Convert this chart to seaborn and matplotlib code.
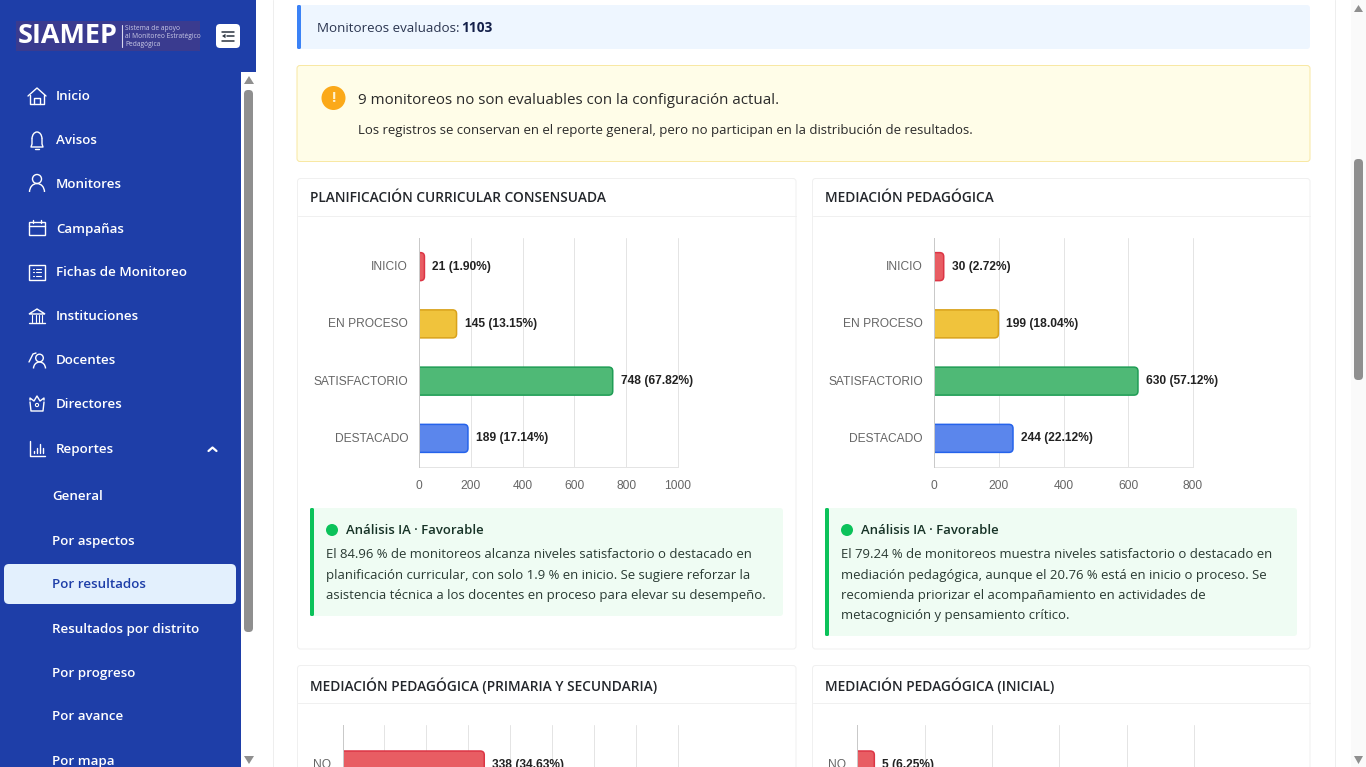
#!/usr/bin/env python
# encoding: utf-8
"""
Reporte SIAMEP: resultados por aspecto, with the page drawn around the charts
"""

import matplotlib
matplotlib.use("Agg")
import matplotlib.pyplot as plt
from matplotlib.patches import Rectangle, FancyBboxPatch, Circle, Arc, Polygon
from matplotlib.transforms import ScaledTranslation
import pandas as pd
import seaborn as sns

sns.set_theme(style="white")
UI_FONT = "Open Sans"
CHART_FONT = "Liberation Sans"
plt.rcParams["font.family"] = [UI_FONT, "DejaVu Sans"]

W, H = 1366, 767

LEVELS = ["INICIO", "EN PROCESO", "SATISFACTORIO", "DESTACADO"]
PLAN_COUNTS = [21, 145, 748, 189]
PLAN_PCT = [1.90, 13.15, 67.82, 17.14]
MEDIA_COUNTS = [30, 199, 630, 244]
MEDIA_PCT = [2.72, 18.04, 57.12, 22.12]
YESNO = ["NO"]
PRIM_COUNTS = [338]
PRIM_PCT = [34.63]
INIC_COUNTS = [5]
INIC_PCT = [6.25]

PLAN_TICKS = [0, 200, 400, 600, 800, 1000]
MEDIA_TICKS = [0, 200, 400, 600, 800]
PRIM_TICKS = [0, 100, 200, 300, 400, 500, 600, 700, 800]
INIC_TICKS = [0, 20, 40, 60, 80, 100]

MENU_MAIN = ["Inicio", "Avisos", "Monitores", "Campañas", "Fichas de Monitoreo",
             "Instituciones", "Docentes", "Directores", "Reportes"]
MENU_SUB = ["General", "Por aspectos", "Por resultados", "Resultados por distrito",
            "Por progreso", "Por avance", "Por mapa"]

PLAN_TEXT = ["El 84.96 % de monitoreos alcanza niveles satisfactorio o destacado en",
             "planificación curricular, con solo 1.9 % en inicio. Se sugiere reforzar la",
             "asistencia técnica a los docentes en proceso para elevar su desempeño."]
MEDIA_TEXT = ["El 79.24 % de monitoreos muestra niveles satisfactorio o destacado en",
              "mediación pedagógica, aunque el 20.76 % está en inicio o proceso. Se",
              "recomienda priorizar el acompañamiento en actividades de",
              "metacognición y pensamiento crítico."]

LEVEL_FILL = ["#e85d63", "#f0c33c", "#4fb976", "#5b86ec"]
LEVEL_EDGE = ["#dc3545", "#d9a21b", "#1f9d55", "#2563eb"]
BLUE = "#1e3ea8"
DARK = "#212529"


def px(v):
    return v * 0.72


def px_axes(fig, left, top, right, bottom):
    ax = fig.add_axes([left / W, 1 - bottom / H, (right - left) / W, (bottom - top) / H])
    ax.patch.set_alpha(0)
    return ax


def hbar(fig, box, labels, counts, pcts, ticks, fills, edges, n_slots=None, show_x=True):
    left, top, right, bottom = box
    ax = px_axes(fig, left, top, right, bottom)
    data = pd.DataFrame({"label": labels, "count": counts})
    slots = n_slots or len(labels)
    sns.barplot(data=data, y="label", x="count", hue="label", order=labels, hue_order=labels,
                palette=fills, legend=False, saturation=1, width=0.5, ax=ax)
    ax.set_xlim(ticks[0], ticks[-1])
    ax.set_ylim(slots - 0.5, -0.5)

    # rounded right corners, the left part hides behind the axis
    x_per_px = (ticks[-1] - ticks[0]) / (right - left)
    y_per_px = slots / (bottom - top)
    bar_h = 28 * y_per_px
    for i, patch in enumerate(list(ax.patches)):
        patch.remove()
        r = 4 * x_per_px
        ax.add_patch(FancyBboxPatch((-2 * r, i - bar_h / 2), counts[i] + 2 * r, bar_h,
                                    boxstyle=f"round,pad=0,rounding_size={r}",
                                    mutation_aspect=y_per_px / x_per_px,
                                    facecolor=fills[i], edgecolor=edges[i], linewidth=1.1, zorder=3))
        ax.annotate(f"{counts[i]} ({pcts[i]:.2f}%)", xy=(counts[i], i), xytext=(px(8), 0),
                    textcoords="offset points", va="center", ha="left", fontsize=px(12),
                    fontweight="bold", color="#222222", family=CHART_FONT, annotation_clip=False)

    ax.set_xticks(ticks)
    ax.set_xlabel("")
    ax.set_ylabel("")
    ax.grid(axis="x", color="#e4e4e4", linewidth=px(1))
    for line in ax.get_xgridlines():
        line.set_clip_on(False)
    ax.set_axisbelow(True)
    ax.tick_params(axis="x", length=0, pad=px(13), labelsize=px(12), labelcolor="#666666",
                   labelbottom=show_x)
    ax.tick_params(axis="y", length=0, pad=px(11), labelsize=px(12), labelcolor="#666666")
    for tick in ax.get_xticklabels() + ax.get_yticklabels():
        tick.set_family(CHART_FONT)
    up = ScaledTranslation(0, 1 / 100, fig.dpi_scale_trans)
    for tick in ax.get_yticklabels():
        tick.set_transform(tick.get_transform() + up)
    sns.despine(ax=ax, top=True, right=True)
    ax.spines["left"].set_color("#c9c9c9")
    ax.spines["left"].set_linewidth(px(1))
    ax.spines["left"].set_zorder(5)
    ax.spines["bottom"].set_color("#e4e4e4")
    ax.spines["bottom"].set_linewidth(px(1))
    return ax


def rbox(ax, x0, y0, x1, y1, face, edge="none", r=3, lw=px(1), z=1):
    ax.add_patch(FancyBboxPatch((x0, y0), x1 - x0, y1 - y0,
                                boxstyle=f"round,pad=0,rounding_size={r}",
                                facecolor=face, edgecolor=edge, linewidth=lw, zorder=z))


def label(ax, x, y, s, size=14, color=DARK, weight="normal", ha="left", family=None, va="center"):
    ax.text(x, y + 1, s, fontsize=px(size), color=color, fontweight=weight, ha=ha, va=va,
            family=family or UI_FONT, zorder=6)


def stroke(ax, xs, ys, color="white", lw=1.0):
    ax.plot(xs, ys, color=color, linewidth=lw, solid_capstyle="round", zorder=6)


def draw_icons(ax):
    # inicio
    stroke(ax, [28, 37, 46], [96, 88, 96])
    stroke(ax, [30, 30, 44, 44], [95, 104, 104, 95])
    stroke(ax, [34, 34, 40, 40], [104, 98, 98, 104])
    # avisos
    ax.add_patch(Arc((37, 139), 10, 14, theta1=180, theta2=360, color="white", lw=1.0, zorder=6))
    stroke(ax, [32, 32, 31, 43, 42, 42], [139, 144, 147, 147, 144, 139])
    stroke(ax, [35, 39], [149, 149])
    # monitores
    ax.add_patch(Circle((37, 179), 4.5, fill=False, ec="white", lw=1.0, zorder=6))
    ax.add_patch(Arc((37, 192), 15, 17, theta1=180, theta2=360, color="white", lw=1.0, zorder=6))
    # campañas
    ax.add_patch(Rectangle((29, 222), 16, 13, fill=False, ec="white", lw=1.0, zorder=6))
    stroke(ax, [29, 45], [226, 226])
    stroke(ax, [33, 33], [220, 223])
    stroke(ax, [41, 41], [220, 223])
    # fichas
    ax.add_patch(Rectangle((29, 264.5), 15.5, 15, fill=False, ec="white", lw=1.0, zorder=6))
    for yy in [268.5, 272, 275.5]:
        stroke(ax, [33, 34], [yy, yy], lw=0.8)
        stroke(ax, [36, 41], [yy, yy], lw=0.8)
    # instituciones
    ax.add_patch(Polygon([(29, 314), (37, 309), (45, 314)], fill=False, ec="white", lw=1.0, zorder=6))
    for xx in [32, 35.5, 38.5, 42]:
        stroke(ax, [xx, xx], [315, 322], lw=0.8)
    stroke(ax, [29, 45], [323, 323])
    # docentes
    ax.add_patch(Circle((39.5, 358), 3.8, fill=False, ec="white", lw=1.0, zorder=6))
    ax.add_patch(Arc((39.5, 368.5), 12, 13, theta1=180, theta2=360, color="white", lw=1.0, zorder=6))
    stroke(ax, [36, 33, 31, 29], [353, 354, 358, 362])
    # directores
    stroke(ax, [30, 30, 34, 37, 40, 44, 44], [400, 398, 401, 396, 401, 398, 400])
    stroke(ax, [30, 31, 43, 44], [402, 411, 411, 402])
    ax.add_patch(Circle((37, 405), 1.6, fill=False, ec="white", lw=0.8, zorder=6))
    # reportes
    stroke(ax, [30, 30, 45], [441, 456, 456])
    for xx, yt in zip([33.5, 36.5, 39.5, 42.5], [451, 448, 444, 448]):
        stroke(ax, [xx, xx], [yt, 453], lw=1.0)
    stroke(ax, [208.5, 212.5, 216.5], [451, 447.5, 451], lw=1.6)


def draw_page(ax):
    ax.set_xlim(0, W)
    ax.set_ylim(H, 0)
    ax.axis("off")

    # sidebar
    ax.add_patch(Rectangle((0, 0), 241, H, color=BLUE, lw=0))
    ax.add_patch(Rectangle((241, 0), 15, 72, color=BLUE, lw=0))
    rbox(ax, 244, 90, 253, 632, "#8f8f8f", r=4, z=2)
    ax.add_patch(Polygon([(244, 84), (254, 84), (249, 76)], color="#8f8f8f", lw=0))
    ax.add_patch(Polygon([(244, 756), (254, 756), (249, 764)], color="#8f8f8f", lw=0))

    # logo
    ax.add_patch(Rectangle((16, 21), 184, 30, color="#3a3b8f", lw=0, zorder=2))
    label(ax, 18, 35, "SIAMEP", size=27, color="white", weight="bold", family="Open Sans")
    ax.plot([121.5, 121.5], [25, 47], color="#d8d8ee", lw=0.8, zorder=6)
    for yy, s in zip([27, 35.5, 44], ["Sistema de apoyo", "al Monitoreo Estratégico", "Pedagógica"]):
        label(ax, 125, yy, s, size=6.7, color="#c9c9e6")
    rbox(ax, 216, 24, 240, 48, "white", r=4, z=2)
    for yy, x0 in zip([31.5, 36, 40.5], [222, 227, 222]):
        stroke(ax, [x0, 234], [yy, yy], color="#2b3440", lw=1.1)
    ax.add_patch(Polygon([(225.5, 33.8), (225.5, 38.2), (222, 36)], color="#2b3440", lw=0, zorder=6))

    for i, name in enumerate(MENU_MAIN):
        label(ax, 56, 96 + 44 * i, name, size=13.4, color="white", weight="semibold")
    rbox(ax, 4, 564, 236, 604, "#e3f0fd", r=5, z=2)
    for i, name in enumerate(MENU_SUB):
        color = BLUE if name == "Por resultados" else "white"
        label(ax, 52, 496 + 44 * i, name, size=13.4, color=color, weight="semibold")
    draw_icons(ax)

    # page borders and scrollbar
    ax.plot([272.5, 272.5], [0, H], color="#eeeeee", lw=px(1))
    ax.plot([1334.5, 1334.5], [0, H], color="#eeeeee", lw=px(1))
    ax.add_patch(Rectangle((1351, 0), 15, H, color="#fafafa", lw=0))
    rbox(ax, 1354, 159, 1363, 380, "#8f8f8f", r=4, z=2)
    ax.add_patch(Polygon([(1354, 12), (1363, 12), (1358.5, 5)], color="#8f8f8f", lw=0))
    ax.add_patch(Polygon([(1354, 756), (1363, 756), (1358.5, 764)], color="#8f8f8f", lw=0))

    # totals
    rbox(ax, 297, 5, 1310, 49, "#eef6ff", r=3)
    rbox(ax, 297, 5, 301, 49, "#3b82f6", r=1.5, z=2)
    label(ax, 317, 31.5, "Monitoreos evaluados:", size=13.35, color="#2b3550", va="baseline")
    label(ax, 461, 31.5, "1103", size=13.6, color="#14204a", weight="bold", va="baseline")

    # warning
    rbox(ax, 297, 65.5, 1310, 161.5, "#fffde8", edge="#f8e8a4", r=3)
    ax.add_patch(Circle((333.5, 98), 12, color="#fba919", lw=0, zorder=3))
    label(ax, 333.5, 97, "!", size=15, color="#fff3d0", weight="bold", ha="center")
    label(ax, 358, 99.5, "9 monitoreos no son evaluables con la configuración actual.", size=15.1, color="#2a2a2a")
    label(ax, 358, 129.5, "Los registros se conservan en el reporte general, pero no participan en la distribución de resultados.",
          size=13.15, color="#2a2a2a")

    # cards
    titles = ["PLANIFICACIÓN CURRICULAR CONSENSUADA", "MEDIACIÓN PEDAGÓGICA",
              "MEDIACIÓN PEDAGÓGICA (PRIMARIA Y SECUNDARIA)", "MEDIACIÓN PEDAGÓGICA (INICIAL)"]
    frames = [(297.5, 178.5, 796), (812.5, 178.5, 1310), (297.5, 665.5, 796), (812.5, 665.5, 1310)]
    for title, (x0, y0, x1) in zip(titles, frames):
        y1 = y0 + 470.5 if y0 < 600 else H + 20
        rbox(ax, x0, y0, x1, y1, "white", edge="#f0f0f0", r=3)
        ax.plot([x0, x1], [y0 + 37.5, y0 + 37.5], color="#f0f0f0", lw=px(1), zorder=2)
        label(ax, x0 + 12.5, y0 + 19, title, size=13.75, color="#23262b", weight="semibold")

    # analysis boxes
    for x0, x1, y1, lines in [(310, 783, 616, PLAN_TEXT), (825, 1297, 636, MEDIA_TEXT)]:
        rbox(ax, x0, 508, x1, y1, "#effcf3", r=3, z=2)
        rbox(ax, x0, 508, x0 + 4, y1, "#0bc25a", r=1.5, z=3)
        ax.add_patch(Circle((x0 + 22, 530), 6, color="#0bc25a", lw=0, zorder=4))
        label(ax, x0 + 36, 530, "Análisis IA · Favorable", size=13.1, color="#173327", weight="semibold")
        for i, line in enumerate(lines):
            label(ax, x0 + 16, 554 + 20 * i, line, size=13.1, color="#2a3a33")


if __name__ == "__main__":
    fig = plt.figure(figsize=(W / 100, H / 100), dpi=100, facecolor="white")
    page = fig.add_axes([0, 0, 1, 1])
    draw_page(page)

    hbar(fig, (419, 238, 678, 467), LEVELS, PLAN_COUNTS, PLAN_PCT, PLAN_TICKS, LEVEL_FILL, LEVEL_EDGE)
    hbar(fig, (934, 238, 1193, 467), LEVELS, MEDIA_COUNTS, MEDIA_PCT, MEDIA_TICKS, LEVEL_FILL, LEVEL_EDGE)
    # the two lower charts run past the bottom of the page, only their first bar shows
    hbar(fig, (342.5, 725, 678, 965), YESNO, PRIM_COUNTS, PRIM_PCT, PRIM_TICKS, LEVEL_FILL[:1], LEVEL_EDGE[:1],
         n_slots=3, show_x=False)
    hbar(fig, (857.5, 725, 1194, 965), YESNO, INIC_COUNTS, INIC_PCT, INIC_TICKS, LEVEL_FILL[:1], LEVEL_EDGE[:1],
         n_slots=3, show_x=False)

    fig.savefig("out.png", dpi=100)
